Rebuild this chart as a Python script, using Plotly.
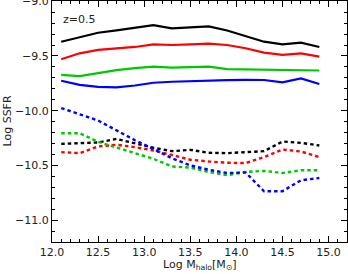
import plotly.graph_objects as go

log_mhalo = [12.1, 12.3, 12.5, 12.7, 12.9, 13.1, 13.3, 13.5, 13.7, 13.9, 14.1, 14.3, 14.5, 14.7, 14.9]

# solid lines
ssfr_black_solid = [-9.37, -9.327, -9.288, -9.267, -9.243, -9.218, -9.248, -9.236, -9.23, -9.267, -9.318, -9.37, -9.394, -9.379, -9.418]
ssfr_red_solid = [-9.53, -9.476, -9.445, -9.43, -9.418, -9.394, -9.40, -9.394, -9.388, -9.40, -9.43, -9.47, -9.49, -9.476, -9.506]
ssfr_green_solid = [-9.673, -9.685, -9.657, -9.63, -9.612, -9.597, -9.606, -9.60, -9.597, -9.621, -9.624, -9.627, -9.624, -9.633, -9.633]
ssfr_blue_solid = [-9.727, -9.764, -9.782, -9.788, -9.77, -9.745, -9.736, -9.73, -9.721, -9.721, -9.718, -9.72, -9.742, -9.706, -9.757]

# dashed lines
ssfr_black_dash = [-10.303, -10.297, -10.291, -10.258, -10.297, -10.339, -10.37, -10.358, -10.385, -10.388, -10.379, -10.37, -10.282, -10.294, -10.318]
ssfr_red_dash = [-10.379, -10.388, -10.327, -10.312, -10.333, -10.364, -10.405, -10.448, -10.464, -10.476, -10.479, -10.424, -10.355, -10.373, -10.424]
ssfr_green_dash = [-10.206, -10.206, -10.285, -10.333, -10.388, -10.44, -10.51, -10.52, -10.56, -10.59, -10.56, -10.55, -10.57, -10.545, -10.545]
ssfr_blue_dash = [-9.976, -10.03, -10.09, -10.18, -10.27, -10.35, -10.435, -10.5, -10.54, -10.57, -10.565, -10.736, -10.736, -10.636, -10.615]

x_ticks = [12.0, 12.5, 13.0, 13.5, 14.0, 14.5, 15.0]
y_ticks = [-11.0, -10.5, -10.0, -9.5, -9.0]

colors = {"black": "#000000", "red": "#FF0000", "green": "#00C800", "blue": "#0000FF"}

fig = go.Figure()
solid = [("black", ssfr_black_solid), ("red", ssfr_red_solid), ("green", ssfr_green_solid), ("blue", ssfr_blue_solid)]
dashed = [("black", ssfr_black_dash), ("red", ssfr_red_dash), ("green", ssfr_green_dash), ("blue", ssfr_blue_dash)]
for name, ys in solid:
    fig.add_trace(go.Scatter(x=log_mhalo, y=ys, mode="lines",
                             line=dict(color=colors[name], width=2.2), showlegend=False))
for name, ys in dashed:
    fig.add_trace(go.Scatter(x=log_mhalo, y=ys, mode="lines",
                             line=dict(color=colors[name], width=2.4, dash="3.5px,3px"), showlegend=False))

font_fam = "DejaVu Sans, Arial, sans-serif"
axis_common = dict(
    showgrid=False, zeroline=False, showline=True, linecolor="#000", linewidth=1,
    mirror="allticks", ticks="inside", ticklen=6, tickwidth=1, tickcolor="#000",
    tickfont=dict(family=font_fam, size=11, color="#222"), automargin=False,
    ticklabeloverflow="allow",
)

fig.update_xaxes(range=[12.0, 15.2], tickvals=x_ticks, ticktext=[f"{v:.1f}" for v in x_ticks],
                 minor=dict(ticks="inside", dtick=0.1, tick0=12.0, ticklen=3, tickcolor="#000", showgrid=False),
                 **axis_common)
fig.update_yaxes(range=[-11.2, -8.998], tickvals=y_ticks, ticktext=["\u221211.0", "\u221210.5", "\u221210.0", "\u22129.5", "\u22129.0"],
                 minor=dict(ticks="inside", dtick=0.1, tick0=-11.0, ticklen=3, tickcolor="#000", showgrid=False),
                 **axis_common)

fig.add_annotation(x=0.5, y=0, xref="paper", yref="paper", yshift=-23,
                   text="Log M<sub>halo</sub>[M<sub>⊙</sub>]", showarrow=False,
                   xanchor="center", yanchor="middle", font=dict(family=font_fam, size=11, color="#222"))
fig.add_annotation(x=0, y=0.5, xref="paper", yref="paper", xshift=-45,
                   text="Log SSFR", showarrow=False, textangle=-90,
                   xanchor="center", yanchor="middle", font=dict(family=font_fam, size=11, color="#222"))

fig.add_annotation(x=12.1, y=-9.17, xref="x", yref="y", text="z=0.5", showarrow=False,
                   xanchor="left", yanchor="middle", font=dict(family=font_fam, size=11, color="#222"))

fig.update_layout(width=348, height=274, margin=dict(l=52, r=1, t=1, b=32),
                  plot_bgcolor="white", paper_bgcolor="white")

fig.write_html("out.html", config={"displayModeBar": False},
               post_script="document.body.style.margin='0';")
